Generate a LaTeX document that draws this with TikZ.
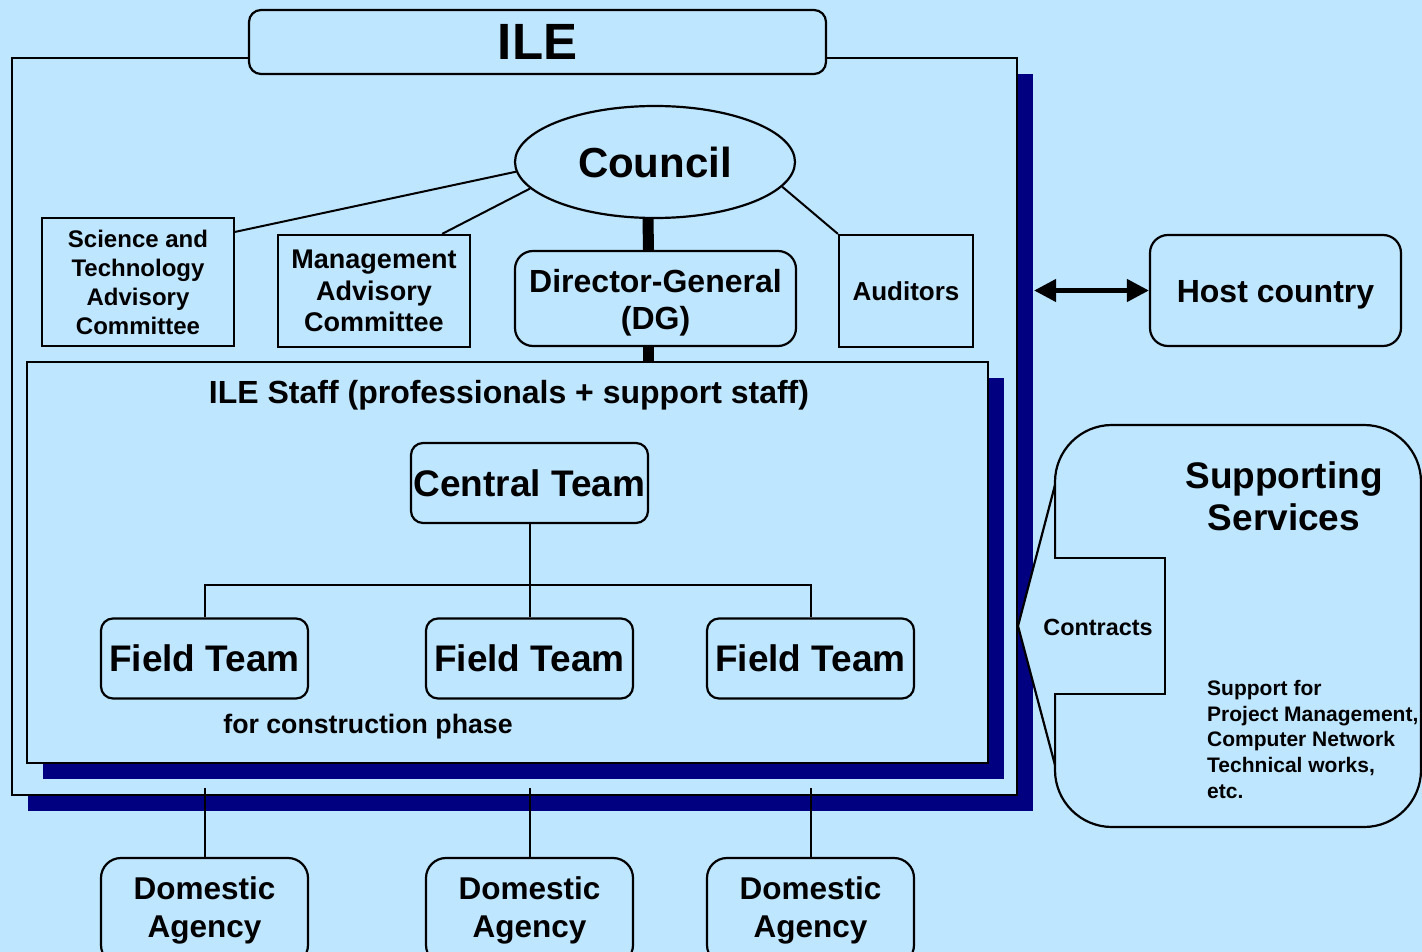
\documentclass[tikz,border=0pt]{standalone}
\usepackage{fontspec}
\setmainfont{Liberation Sans}
\usetikzlibrary{shapes.geometric,arrows.meta,calc}
\definecolor{bg}{HTML}{BFE6FF}
\definecolor{shad}{HTML}{000080}
\begin{document}
\begin{tikzpicture}[x=1pt,y=-1pt,
  every node/.style={inner sep=0pt, align=center},
  fs/.style 2 args={font=\fontsize{#1}{#2}\selectfont\bfseries},
  bx/.style={draw, line width=2.2pt, fill=bg},
  rbx/.style={bx, rounded corners=#1},
  ln/.style={line width=2pt},
  thick bar/.style={line width=11pt}]
\clip (0,0) rectangle (1422,952);
\fill[bg] (0,0) rectangle (1422,952);

% outer ILE box with shadow
\fill[shad] (28,74) rectangle (1033,811);
\node[bx, minimum width=1005pt, minimum height=737pt] (ile) at (514.5,426.5) {};
\node[rbx=12pt, minimum width=577pt, minimum height=64pt, fs={51}{51}] (title) at (537.5,42) {ILE};

% governance
\node[bx, ellipse, minimum width=280pt, minimum height=112pt, fs={42}{42}] (council) at (655,162) {Council};
\node[bx, minimum width=192pt, minimum height=128pt, fs={24}{29}] (sci) at (138,282) {Science and\\Technology\\Advisory\\Committee};
\node[bx, minimum width=192pt, minimum height=112pt, fs={27}{31.5}] (mac) at (374,291) {Management\\Advisory\\Committee};
\node[rbx=18pt, minimum width=281pt, minimum height=95pt] (dg) at (655.5,298.5) {};
\node[fs={32}{37}] (dgtext) at (655.5,302.5) {Director-General\\(DG)};
\node[bx, minimum width=134pt, minimum height=112pt, fs={26}{26}] (aud) at (906,291) {Auditors};

\draw[ln] (council.184) -- ([yshift=-15pt]sci.north east);
\draw[ln] (council.192) -- ([xshift=-29pt]mac.north east);
\draw[ln] (council.349) -- (aud.north west);
\coordinate (cb) at ([xshift=-7pt]council.south);
\coordinate (dgt) at ([xshift=-7pt]dg.north);
\coordinate (dgb) at ([xshift=-7pt]dg.south);
\draw[thick bar] (cb) -- (dgt);

% staff box with shadow
\fill[shad] (43,378) rectangle (1004,779);
\node[bx, minimum width=961pt, minimum height=401pt] (staff) at (507.5,562.5) {};
\draw[thick bar] (dgb) -- (dgb |- staff.north);
\node[fs={32}{32}] (stafft) at (509,395) {ILE Staff (professionals + support staff)};

\node[rbx=12pt, minimum width=237pt, minimum height=80pt, fs={37}{37}] (ct) at (529.5,483) {Central Team};
\node[rbx=12pt, minimum width=207pt, minimum height=80pt, fs={37}{37}] (f1) at (204.5,658.5) {Field Team};
\node[rbx=12pt, minimum width=207pt, minimum height=80pt, fs={37}{37}] (f2) at (529.5,658.5) {Field Team};
\node[rbx=12pt, minimum width=207pt, minimum height=80pt, fs={37}{37}] (f3) at (810.5,658.5) {Field Team};
\coordinate (j) at ($(f2.north)+(0,-32)$);
\draw[ln] (ct.south) -- (j);
\draw[ln] (f1.north) |- (j) -| (f3.north);
\draw[ln] (j) -- (f2.north);
\node[fs={26.7}{26.7}] (phase) at (368,727) {for construction phase};

% domestic agencies
\foreach \n/\x in {1/204.5, 2/529.5, 3/810.5}{
  \node[rbx=20pt, minimum width=207pt, minimum height=107pt] (d\n) at (\x,911.5) {};
  \node[fs={31.5}{38}] (d\n t) at (\x,910) {Domestic\\Agency};
  \draw[ln] ($(staff.south -| d\n.north)+(0,24)$) -- (d\n.north);
}

% host country
\node[rbx=18pt, minimum width=251pt, minimum height=111pt] (host) at (1275.5,290.5) {};
\node[fs={32}{32}] (hosttext) at (1275.5,294.5) {Host country};
\coordinate (ileR) at ([xshift=16pt]ile.east);
\draw[{Triangle[length=22pt,width=22pt]}-{Triangle[length=22pt,width=22pt]}, line width=4.5pt]
  (ileR |- host.west) -- (host.west);

% supporting services callout
\draw[fill=bg, line width=2.2pt, rounded corners=57pt] (1055,425) rectangle (1421,827);
\fill[bg] (1018,626) -- (1055,485) -- (1055,765) -- cycle;
\fill[bg] (1053,558) rectangle (1165,694);
\draw[line width=2.2pt, line join=round] (1055,485) -- (1018,626) -- (1055,765);
\draw[line width=2.2pt] (1055,485) -- (1055,558) -- (1165,558) -- (1165,694) -- (1055,694) -- (1055,765);
\node[fs={23.4}{23.4}] (contracts) at (1098,627) {Contracts};
\node[fs={37}{42}] (ss) at (1284,496) {Supporting\\Services};
\node[fs={21}{25.7}, align=left, anchor=north west] (supp) at (1207,680) {Support for\\Project Management,\\Computer Network\\Technical works,\\etc.};
\end{tikzpicture}
\end{document}
